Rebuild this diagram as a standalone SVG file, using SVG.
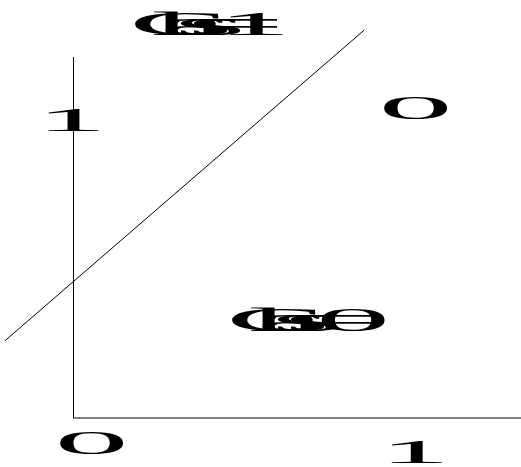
<svg xmlns="http://www.w3.org/2000/svg" width="521" height="467" viewBox="0 0 521 467">
<style>
.lbl{font-family:"Liberation Serif","Times New Roman",serif;font-size:33px;fill:#000}
.ax{stroke:#000;stroke-width:1;fill:none}
</style>
<rect width="521" height="467" fill="#fff"/>
<g id="connectors">
<line class="ax" x1="73.5" y1="57" x2="73.5" y2="418"/>
<line class="ax" x1="73" y1="418" x2="521" y2="418" stroke="#555"/>
<line class="ax" x1="5" y1="340.7" x2="364.3" y2="30"/>
</g>
<g id="tick-y1"><text class="lbl" transform="scale(4.3,1)" x="8.4" y="131">1</text></g>
<g id="tick-x0"><text class="lbl" transform="scale(4.5,1)" x="12.1" y="454">0</text></g>
<g id="tick-x1"><text class="lbl" transform="scale(4.3,1)" x="88.2" y="463">1</text></g>
<g id="point-0"><text class="lbl" transform="scale(4.5,1)" x="84.1" y="119">0</text></g>
<g id="class1"><text class="lbl" transform="scale(4.5,1)" x="28.67 33.56 35.6 38.85 41.7 44.56 48.3" y="35">Class=1</text></g>
<g id="class0"><text class="lbl" transform="scale(4.5,1)" x="50.22 55.11 57.16 60.4 63.27 66.11 70.24" y="331">Class=0</text></g>
</svg>
